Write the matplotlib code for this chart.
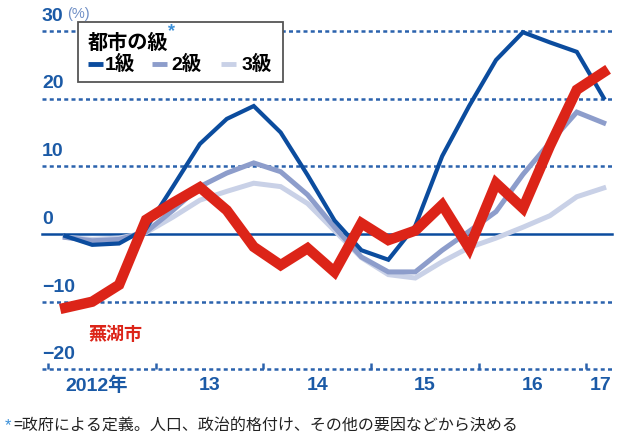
import numpy as np
import matplotlib
matplotlib.use('Agg')
from matplotlib import pyplot as plt
from matplotlib import font_manager
from matplotlib.patches import Rectangle

# quarterly series, 2012 Q1 .. 2017 Q1 (%)
quarters = np.arange(21)
tier1 = [-0.3, -1.6, -1.4, 0.8, 7.0, 13.3, 17.0, 18.9, 15.0, 8.7, 2.0, -2.4, -3.8,
         1.2, 11.5, 18.9, 25.7, 29.8, 28.3, 26.9, 20.1]
tier2 = [-0.5, -1.0, -0.8, 0.3, 3.5, 7.0, 9.0, 10.5, 9.2, 5.8, 1.0, -3.4, -5.6,
         -5.6, -2.4, 0.4, 3.3, 8.8, 13.5, 18.0, 16.4]
tier3 = [-0.5, -0.8, -0.6, 0.2, 2.5, 5.0, 6.3, 7.5, 7.0, 4.5, 0.5, -3.5, -6.0,
         -6.5, -4.1, -2.0, -0.6, 1.0, 2.7, 5.5, 6.8]
wuhu = [-10.9, -10.0, -7.5, 2.1, 4.6, 6.9, 3.5, -1.9, -4.6, -2.1, -5.6, 1.6, -0.9,
        0.5, 4.3, -2.1, 7.5, 3.8, 13.0, 21.3, 23.9]

yticks = [30, 20, 10, 0, -10, -20]
years = [2012, 2013, 2014, 2015, 2016, 2017]
year_labels = ['2012年', '13', '14', '15', '16', '17']
year_label_x = [2012.45, 2013.5, 2014.5, 2015.5, 2016.5, 2017.13]


def have(name):
    try:
        font_manager.findfont(name, fallback_to_default=False)
        return True
    except Exception:
        return False


num_font = 'Liberation Sans Narrow' if have('Liberation Sans Narrow') else 'Liberation Sans'
jp = 'Noto Sans CJK JP'
plt.rcParams['font.family'] = [num_font, jp, 'DejaVu Sans']

c1 = '#0b4c9e'
c2 = '#8d9dcb'
c3 = '#c9d1e7'
cred = '#dc2418'
cgrid = '#2b62ad'
ctext = '#1b5aa6'

fig = plt.figure(figsize=(6.3, 4.42), dpi=100)
ax = fig.add_axes([0, 0, 1, 1])
ax.set_xlim(2011.554, 2017.404)
ax.set_ylim(-30.72, 34.56)
ax.axis('off')

x = 2012.16 + quarters * 0.25

# grid
for v in yticks:
    if v == 0:
        ax.plot([2011.944, 2017.237], [0, 0], color=c1, lw=1.8, zorder=1)
    else:
        ax.plot([2011.944, 2017.237], [v, v], color=cgrid, lw=1.8,
                ls=(0, (1.6, 1.3)), zorder=1)
    lab = str(v).replace('-', '−')
    ax.text(2011.944, v + 0.9, lab, color=ctext, fontsize=14, fontweight='bold',
            ha='left', va='bottom')
ax.text(2012.175, 31.4, '(%)', color='#6f8fc6', fontsize=10.5, ha='left', va='bottom')

ax.vlines(years, -20, -19.1, color=cgrid, lw=1.8, zorder=1)
for xl, lab in zip(year_label_x, year_labels):
    ax.text(xl, -22.4, lab, color=ctext, fontsize=14, fontweight='bold',
            ha='center', va='center')

ax.plot(x, tier3, color=c3, lw=3.6, solid_joinstyle='miter', zorder=2)
ax.plot(x, tier2, color=c2, lw=3.6, solid_joinstyle='miter', zorder=3)
ax.plot(x, tier1, color=c1, lw=3.0, solid_joinstyle='miter', zorder=4)
ax.plot(x, wuhu, color=cred, lw=7.5, solid_joinstyle='miter', zorder=5)

ax.text(2012.371, -14.8, '蕪湖市', color=cred, fontsize=13, fontweight='bold',
        family=[jp], ha='left', va='center')

# legend box
ax.add_patch(Rectangle((0.124, 0.8145), 0.325, 0.136, transform=ax.transAxes,
                       facecolor='white', edgecolor='#555555', lw=1.3, zorder=6))
ax.text(0.140, 0.903, '都市の級', transform=ax.transAxes, fontsize=14.5,
        fontweight='bold', family=[jp], va='center', ha='left', zorder=7)
ax.text(0.267, 0.928, '*', transform=ax.transAxes, fontsize=13, color='#3a8fd8',
        fontweight='bold', va='center', ha='left', zorder=7)
for hx, tx, col, lab in [(0.140, 0.166, c1, '1級'), (0.241, 0.272, c2, '2級'),
                         (0.350, 0.384, c3, '3級')]:
    ax.plot([hx, hx + 0.024], [0.855, 0.855], transform=ax.transAxes, color=col,
            lw=3.5, solid_capstyle='butt', zorder=7)
    ax.text(tx, 0.855, lab, transform=ax.transAxes, fontsize=14, fontweight='bold',
            family=[num_font, jp], va='center', ha='left', zorder=7)

fig.text(0.008, 0.038, '*', color='#3a8fd8', fontsize=12, va='center', ha='left')
fig.text(0.021, 0.038, '=政府による定義。人口、政治的格付け、その他の要因などから決める',
         fontsize=11.5, family=[jp], va='center', ha='left', color='#222222')

plt.savefig('out.png', dpi=100)
